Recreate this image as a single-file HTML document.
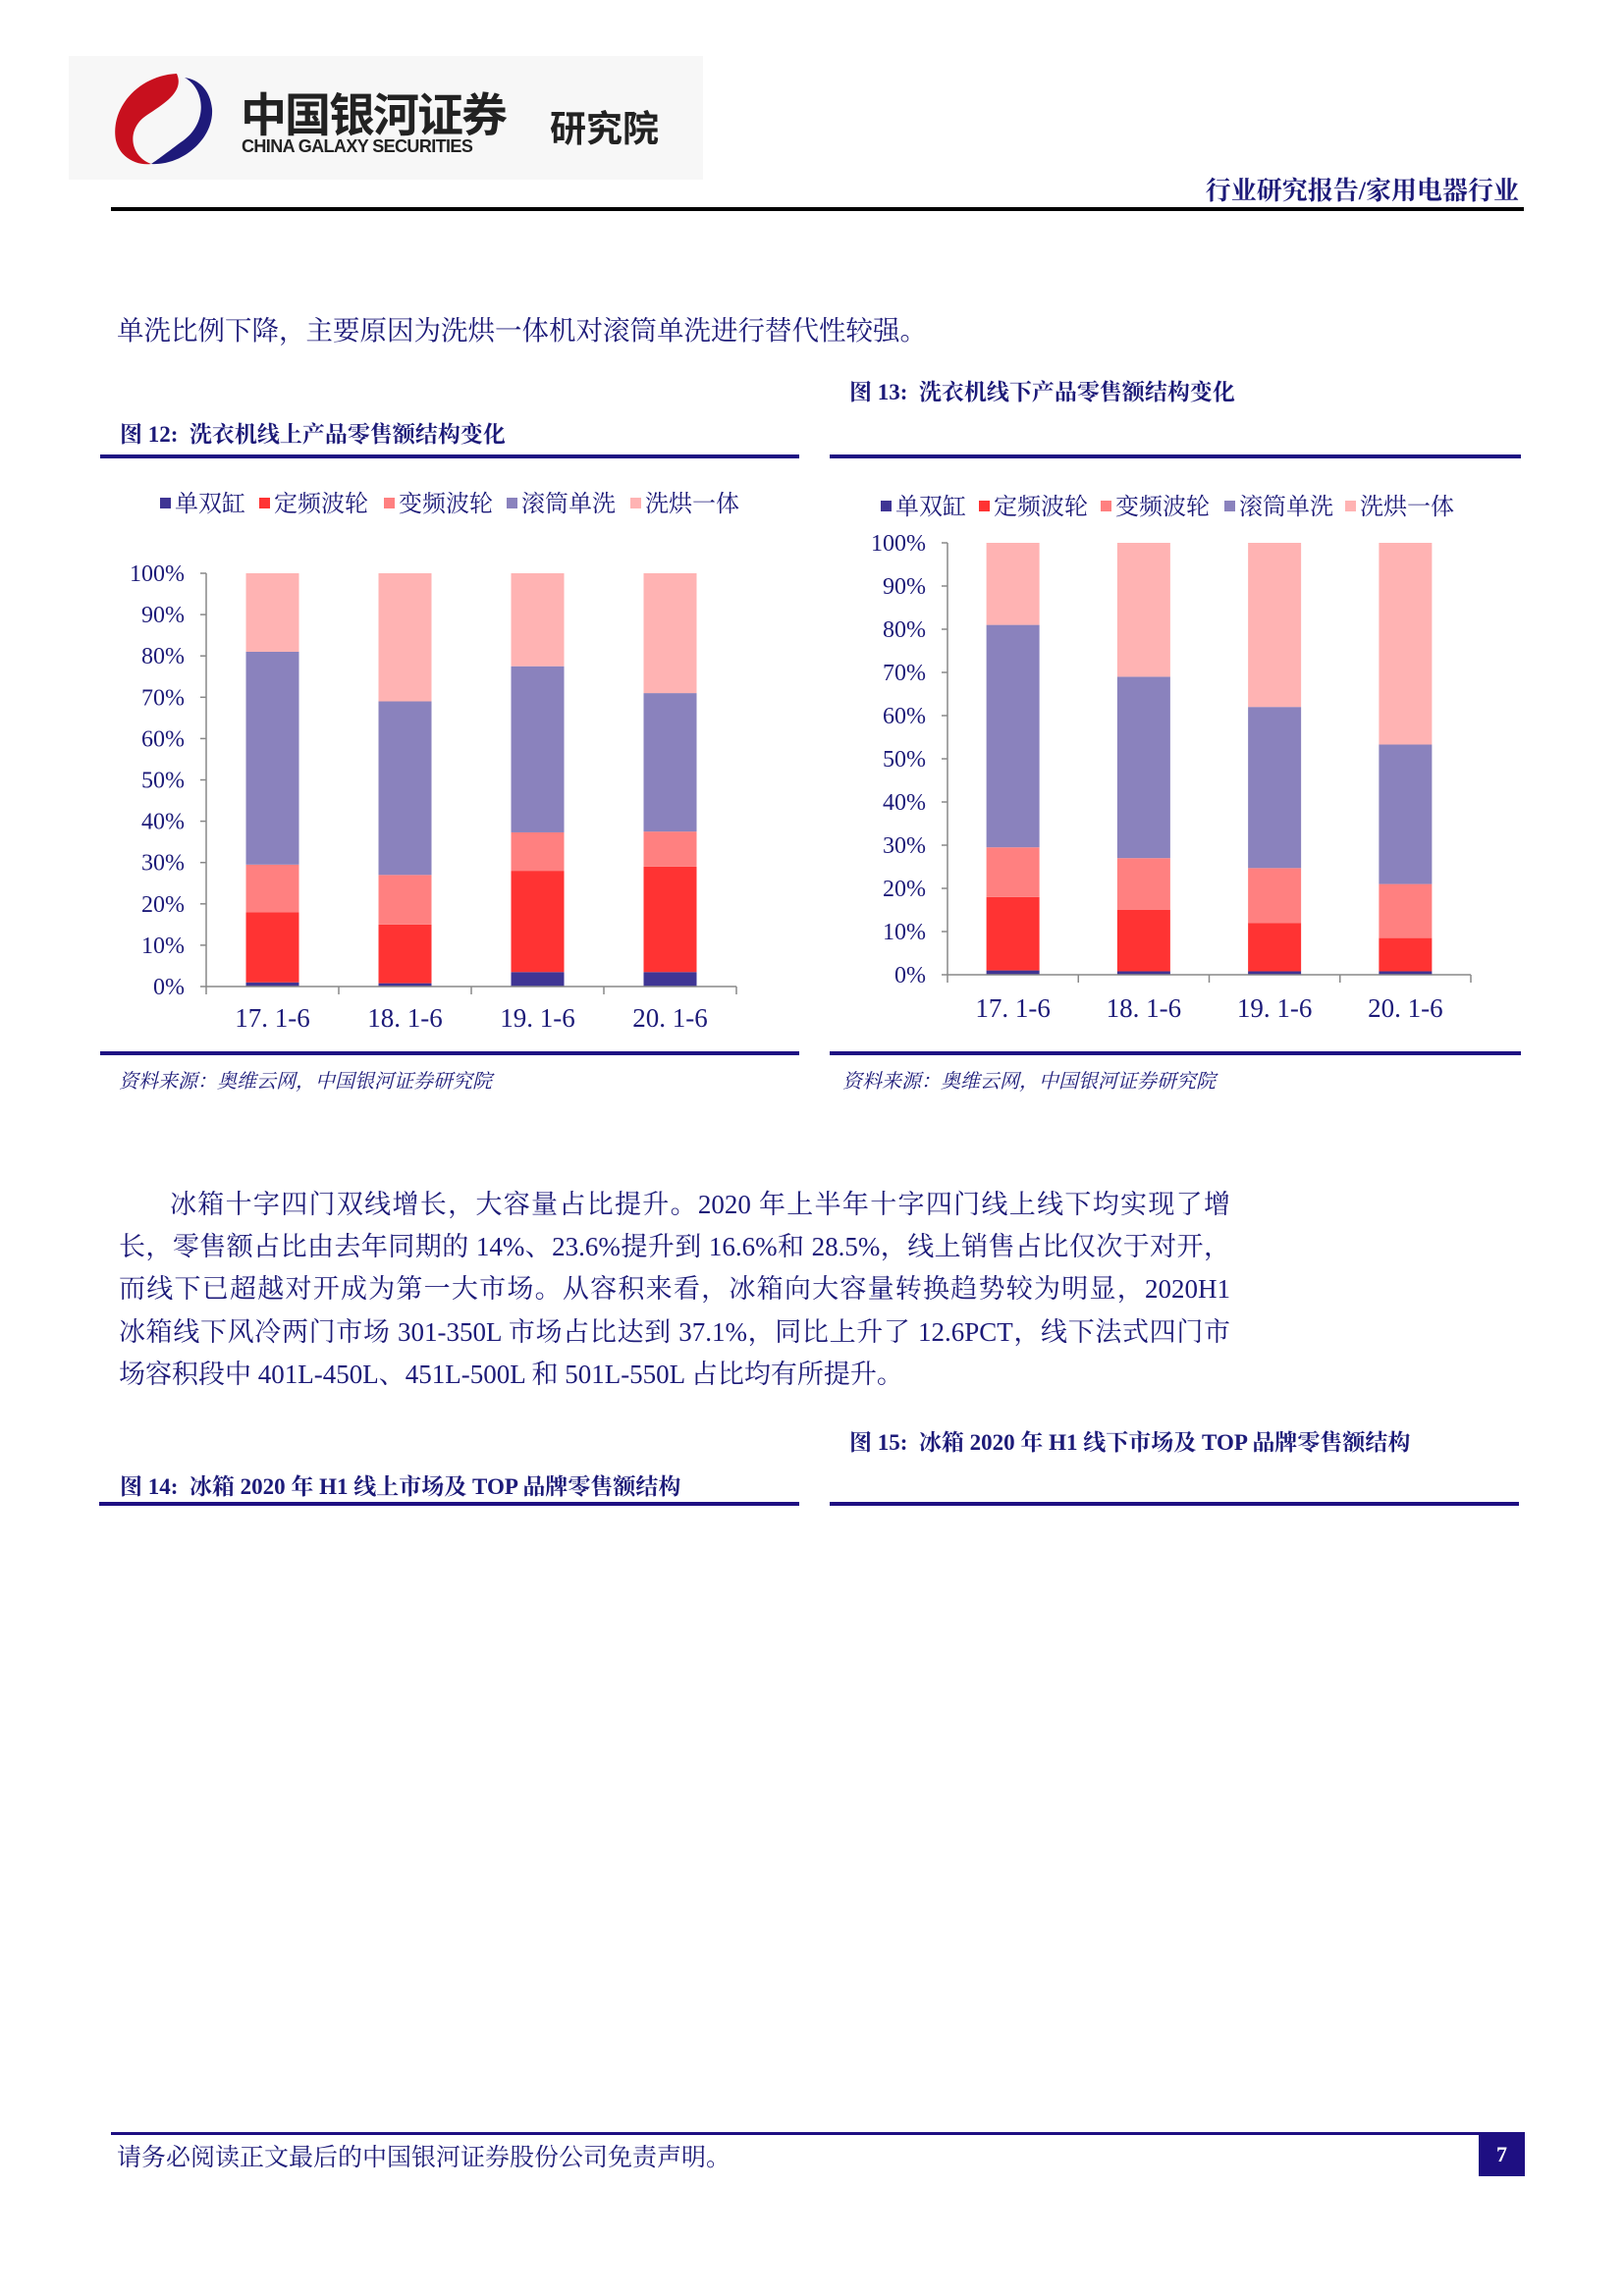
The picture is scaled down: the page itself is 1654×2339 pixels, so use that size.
<!DOCTYPE html>
<html><head><meta charset="utf-8">
<style>
html,body{margin:0;padding:0;background:#fff;}
body{width:1654px;height:2339px;position:relative;overflow:hidden;font-family:"Liberation Serif","Noto Serif CJK SC",serif;color:#1c1a78;}
.abs{position:absolute;white-space:nowrap;}
.cap{font-weight:bold;font-size:23px;font-family:"Liberation Serif","Noto Serif CJK SC",serif;color:#1c1a78;}
.bl{position:absolute;background:#1e0f82;height:4px;}
.pl{position:absolute;left:121px;width:1132px;font-size:27px;line-height:32px;text-align:justify;text-align-last:justify;color:#1c1a78;white-space:nowrap;}
.src{font-style:italic;font-size:20px;color:#1c1a78;}
</style></head>
<body>
<div class="abs" style="left:70px;top:57px;width:646px;height:126px;background:#f7f7f7;">
  <svg width="120" height="100" style="position:absolute;left:40px;top:14px" viewBox="0 0 120 100">
    <path d="M70 4 C30 6 2 40 8 72 C12 90 30 98 44 96 C22 88 18 60 40 46 C58 34 78 22 70 4Z" fill="#c8101e"/>
    <path d="M78 8 C100 20 102 56 74 74 C58 86 50 92 44 96 C76 98 108 70 106 40 C104 20 92 10 78 8Z" fill="#1e1a7a"/>
  </svg>
  <div class="abs" style="left:175px;top:22px;font-size:47px;font-weight:bold;font-family:'Liberation Sans','Noto Sans CJK SC',sans-serif;color:#222;letter-spacing:-2px;">中国银河证券</div>
  <div class="abs" style="left:176px;top:82px;font-size:18px;font-weight:bold;font-family:'Liberation Sans',sans-serif;color:#222;letter-spacing:-0.6px;">CHINA GALAXY SECURITIES</div>
  <div class="abs" style="left:490px;top:44px;font-size:37px;font-weight:bold;font-family:'Liberation Sans','Noto Sans CJK SC',sans-serif;color:#222;">研究院</div>
</div>
<div class="abs" style="right:107px;top:174px;font-size:26px;font-weight:bold;color:#1c1a78;">行业研究报告/家用电器行业</div>
<div class="abs" style="left:113px;top:211px;width:1439px;height:4px;background:#000;"></div>

<div class="abs" style="left:119px;top:314px;font-size:27.5px;color:#1c1a78;">单洗比例下降，主要原因为洗烘一体机对滚筒单洗进行替代性较强。</div>

<div class="abs cap" style="left:865px;top:381px;">图 13:&nbsp; 洗衣机线下产品零售额结构变化</div>
<div class="abs cap" style="left:122px;top:424px;">图 12:&nbsp; 洗衣机线上产品零售额结构变化</div>
<div class="bl" style="left:102px;top:463px;width:712px;"></div>
<div class="bl" style="left:845px;top:463px;width:704px;"></div>

<svg id="c1" class="abs" style="left:0;top:0" width="830" height="1060"></svg>
<svg id="c2" class="abs" style="left:830px;top:0" width="824" height="1060"></svg>

<div class="bl" style="left:102px;top:1071px;width:712px;"></div>
<div class="bl" style="left:845px;top:1071px;width:704px;"></div>
<div class="abs src" style="left:121px;top:1085px;">资料来源：奥维云网，中国银河证券研究院</div>
<div class="abs src" style="left:858px;top:1085px;">资料来源：奥维云网，中国银河证券研究院</div>

<div>
<div class="pl" style="top:1211px;left:173px;width:1080px;">冰箱十字四门双线增长，大容量占比提升。2020 年上半年十字四门线上线下均实现了增</div>
<div class="pl" style="top:1254px;">长，零售额占比由去年同期的 14%、23.6%提升到 16.6%和 28.5%，线上销售占比仅次于对开，</div>
<div class="pl" style="top:1297px;">而线下已超越对开成为第一大市场。从容积来看，冰箱向大容量转换趋势较为明显，2020H1</div>
<div class="pl" style="top:1341px;">冰箱线下风冷两门市场 301-350L 市场占比达到 37.1%，同比上升了 12.6PCT，线下法式四门市</div>
<div class="pl" style="top:1384px;text-align-last:left;width:auto;">场容积段中 401L-450L、451L-500L 和 501L-550L 占比均有所提升。</div>
</div>

<div class="abs cap" style="left:865px;top:1451px;">图 15:&nbsp; 冰箱 2020 年 H1 线下市场及 TOP 品牌零售额结构</div>
<div class="abs cap" style="left:122px;top:1496px;">图 14:&nbsp; 冰箱 2020 年 H1 线上市场及 TOP 品牌零售额结构</div>
<div class="bl" style="left:101px;top:1530px;width:713px;"></div>
<div class="bl" style="left:845px;top:1530px;width:702px;"></div>

<div class="abs" style="left:113px;top:2172px;width:1440px;height:3px;background:#1e0f82;"></div>
<div class="abs" style="left:119px;top:2178px;font-size:25px;color:#1c1a78;">请务必阅读正文最后的中国银河证券股份公司免责声明。</div>
<div class="abs" style="left:1506px;top:2173px;width:47px;height:44px;background:#1e0f82;color:#fff;font-size:22px;font-weight:bold;text-align:center;line-height:44px;">7</div>

<script>
const categories = ["17.1-6","18.1-6","19.1-6","20.1-6"];
const seriesNames = ["单双缸","定频波轮","变频波轮","滚筒单洗","洗烘一体"];
const seriesColors = ["#3f3594","#ff3333","#ff8080","#8a82bd","#ffb3b3"];
const yTicks = [0,10,20,30,40,50,60,70,80,90,100];
const onlineSingleTwin = [1,0.8,3.5,3.5];
const onlineFixedPulsator = [17,14.2,24.5,25.5];
const onlineVarPulsator = [11.5,12,9.3,8.5];
const onlineDrum = [51.5,42,40.2,33.5];
const onlineWasherDryer = [19,31,22.5,29];
const offlineSingleTwin = [1,0.8,0.8,0.8];
const offlineFixedPulsator = [17,14.2,11.2,7.7];
const offlineVarPulsator = [11.5,12,12.7,12.5];
const offlineDrum = [51.5,42,37.3,32.3];
const offlineWasherDryer = [19,31,38,46.7];

const NS="http://www.w3.org/2000/svg";
function mk(svg,tag,attrs,text){const e=document.createElementNS(NS,tag);for(const k in attrs)e.setAttribute(k,attrs[k]);if(text!==undefined)e.textContent=text;svg.appendChild(e);return e;}
function draw(svgId,series,cfg,prefix){
  const svg=document.getElementById(svgId);
  const y=v=>cfg.y0-(v/100)*(cfg.y0-cfg.y100);
  const bandW=(cfg.xR-cfg.x0)/categories.length;
  const x=i=>cfg.x0+bandW*i+bandW/2;
  const bw=54;
  seriesNames.forEach((n,i)=>{
    const g=mk(svg,'g',{});
    
    
    mk(g,'rect',{x:cfg.legX[i],y:cfg.legY-5,width:11,height:11,fill:seriesColors[i]});
    mk(g,'text',{x:cfg.legX[i]+15,y:cfg.legY+9,'font-size':24,fill:'#1c1a78','font-family':'Liberation Serif, Noto Serif CJK SC, serif'},n);
  });
  categories.forEach((c,ci)=>{
    let acc=0;
    series.forEach((s,si)=>{
      const v=s[ci];
      const r=mk(svg,'rect',{x:x(ci)-bw/2,y:y(acc+v),width:bw,height:y(acc)-y(acc+v),fill:seriesColors[si]});
      
      
      acc+=v;
    });
  });
  mk(svg,'line',{x1:cfg.x0,y1:cfg.y100,x2:cfg.x0,y2:cfg.y0,stroke:'#888','stroke-width':1.5});
  mk(svg,'line',{x1:cfg.x0,y1:cfg.y0,x2:cfg.xR,y2:cfg.y0,stroke:'#888','stroke-width':1.5});
  yTicks.forEach(t=>{
    mk(svg,'line',{x1:cfg.x0-6,y1:y(t),x2:cfg.x0,y2:y(t),stroke:'#888','stroke-width':1.5});
    const tl=mk(svg,'text',{x:cfg.x0-22,y:y(t)+8,'text-anchor':'end','font-size':24,fill:'#1c1a78','font-family':'Liberation Serif, serif'},t+'%');
    
    
  });
  for(let i=0;i<=categories.length;i++){
    const xx=cfg.x0+bandW*i;
    mk(svg,'line',{x1:xx,y1:cfg.y0,x2:xx,y2:cfg.y0+8,stroke:'#888','stroke-width':1.5});
  }
  categories.forEach((c,ci)=>{
    const t=mk(svg,'text',{x:x(ci),y:cfg.labY+10,'text-anchor':'middle','font-size':27,fill:'#1c1a78','font-family':'Liberation Serif, serif'},c.replace('.','. '));
    
    
  });
}
draw('c1',[onlineSingleTwin,onlineFixedPulsator,onlineVarPulsator,onlineDrum,onlineWasherDryer],
  {x0:210,xR:750,y0:1005,y100:584,legY:512,legX:[163,264,391,516,642],labY:1036},'online');
draw('c2',[offlineSingleTwin,offlineFixedPulsator,offlineVarPulsator,offlineDrum,offlineWasherDryer],
  {x0:135,xR:668,y0:993,y100:553,legY:515,legX:[67,167,291,417,540],labY:1026},'offline');
</script>
</body></html>
